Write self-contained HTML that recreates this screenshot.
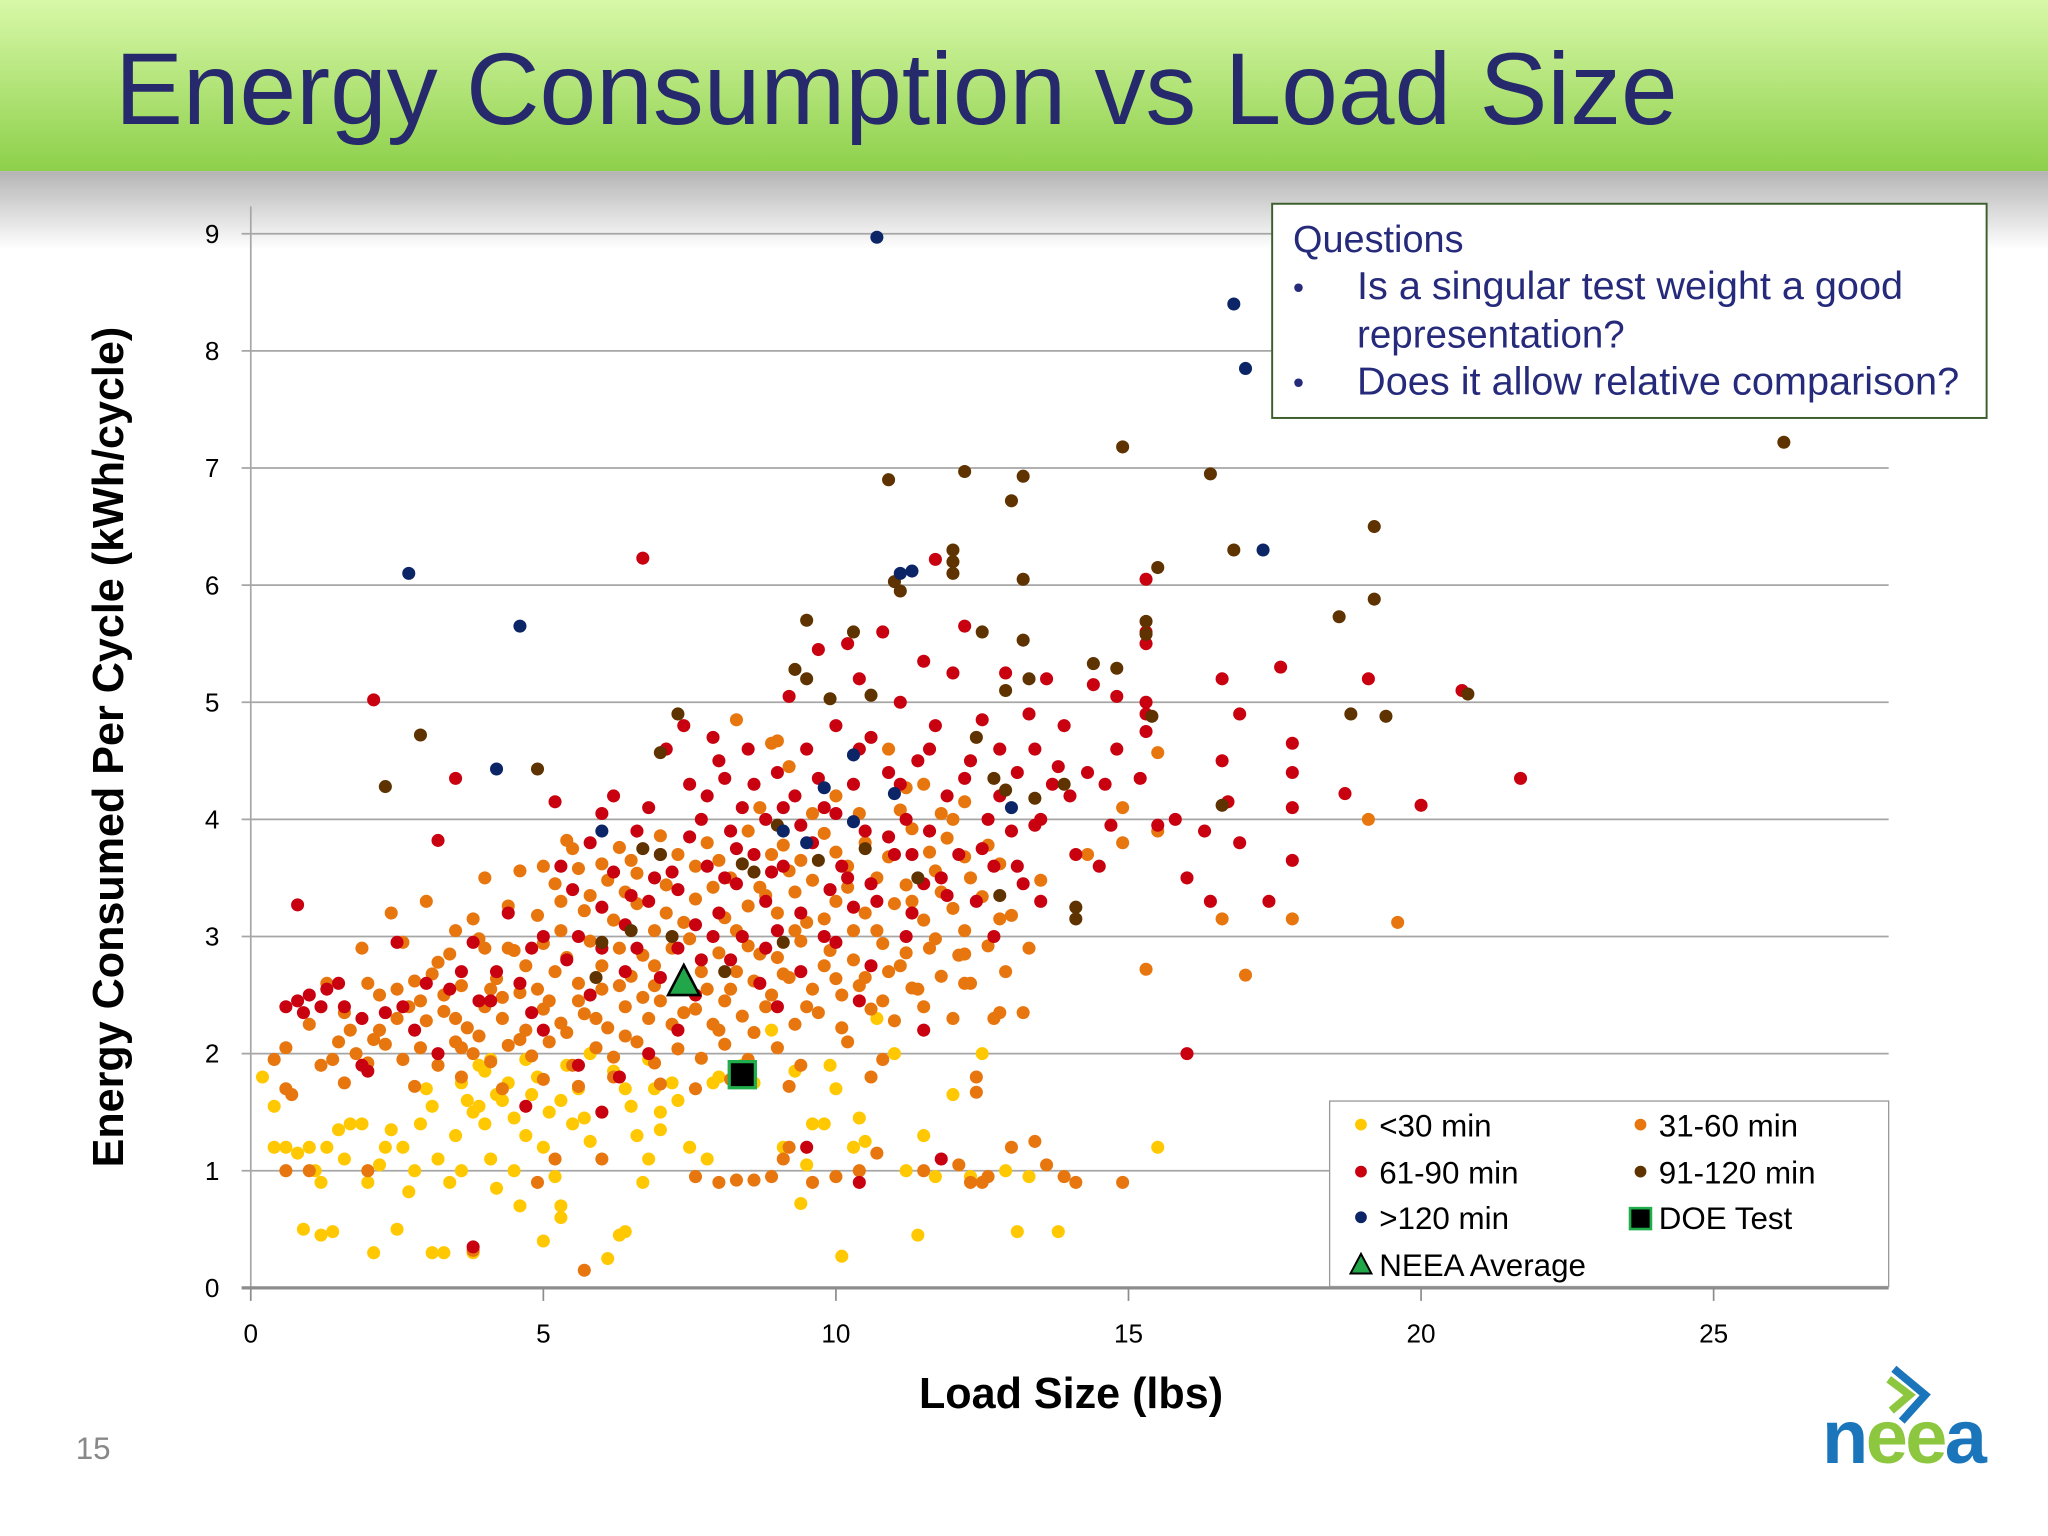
<!DOCTYPE html>
<html><head><meta charset="utf-8"><style>
html,body{margin:0;padding:0;background:#fff}
svg{display:block}
text{font-family:"Liberation Sans",sans-serif}
</style></head><body>
<svg id="chart" width="2048" height="1536" viewBox="0 0 1568 1176" xmlns="http://www.w3.org/2000/svg">
<defs>
<linearGradient id="hdr" x1="0" y1="0" x2="0" y2="1"><stop offset="0" stop-color="#d8f8a8"/><stop offset="1" stop-color="#8dd04a"/></linearGradient>
<linearGradient id="shd" x1="0" y1="0" x2="0" y2="1"><stop offset="0" stop-color="#b4b4b4"/><stop offset="1" stop-color="#ffffff"/></linearGradient>
</defs>
<rect x="0" y="0" width="1568" height="131" fill="url(#hdr)"/>
<rect x="0" y="131" width="1568" height="60" fill="url(#shd)"/>
<text x="88" y="95" font-size="78" fill="#262a6c">Energy Consumption vs Load Size</text>
<g id="grid"></g>
<g id="axes"></g>
<g id="marks"></g>
<text transform="translate(94,572) rotate(-90)" text-anchor="middle" font-size="33" font-weight="bold" fill="#000">Energy Consumed Per Cycle (kWh/cycle)</text>
<text x="820" y="1078" text-anchor="middle" font-size="33" font-weight="bold" fill="#000">Load Size (lbs)</text>
<g>
<rect x="974" y="156" width="547" height="164" fill="#fff" stroke="#3d5f2e" stroke-width="1.5"/>
<text x="990" y="193" font-size="29" fill="#262a7a">Questions</text>
<text x="990" y="228" font-size="24" fill="#262a7a">•</text>
<text x="1039" y="229" font-size="29.5" fill="#262a7a" textLength="418" lengthAdjust="spacingAndGlyphs">Is a singular test weight a good</text>
<text x="1039" y="266" font-size="29.5" fill="#262a7a">representation?</text>
<text x="990" y="301" font-size="24" fill="#262a7a">•</text>
<text x="1039" y="302" font-size="29.5" fill="#262a7a" textLength="461" lengthAdjust="spacingAndGlyphs">Does it allow relative comparison?</text>
</g>
<g>
<rect x="1018" y="843" width="428" height="142" fill="#fff" stroke="#999" stroke-width="1"/>
<g><circle cx="1042" cy="861" r="4.5" fill="#ffc800"/><text x="1056" y="870" font-size="24">&lt;30 min</text></g>
<g><circle cx="1256" cy="861" r="4.5" fill="#e8760f"/><text x="1270" y="870" font-size="24">31-60 min</text></g>
<g><circle cx="1042" cy="897" r="4.5" fill="#c8000f"/><text x="1056" y="906" font-size="24">61-90 min</text></g>
<g><circle cx="1256" cy="897" r="4.5" fill="#5e3300"/><text x="1270" y="906" font-size="24">91-120 min</text></g>
<g><circle cx="1042" cy="932" r="4.5" fill="#0c2566"/><text x="1056" y="941" font-size="24">&gt;120 min</text></g>
<g><rect x="1248" y="925" width="16" height="16" fill="#000" stroke="#1fae4b" stroke-width="2"/><text x="1270" y="941" font-size="24">DOE Test</text></g>
<g><polygon points="1042,960 1050,975 1034,975" fill="#22a64a" stroke="#000" stroke-width="1.5"/><text x="1056" y="977" font-size="24">NEEA Average</text></g>
</g>
<text x="58" y="1117" font-size="24" fill="#888">15</text>
<g>
<polyline points="1450,1048 1474,1068 1456,1088" fill="none" stroke="#1a75bb" stroke-width="6"/>
<polyline points="1446,1056 1462,1068 1448,1080" fill="none" stroke="#8dc63f" stroke-width="6"/>
<text x="1395" y="1120" font-size="58" font-weight="bold" letter-spacing="-2"><tspan fill="#1a75bb">n</tspan><tspan fill="#8dc63f">ee</tspan><tspan fill="#1a75bb">a</tspan></text>
</g>
</svg>
<script>
const xTicks=[0,5,10,15,20,25];
const yTicks=[0,1,2,3,4,5,6,7,8,9];
const under30=[[0.2,1.8],[0.4,1.55],[0.4,1.2],[0.6,1.2],[0.8,1.15],[0.9,0.5],[1.2,0.45],[1.4,0.48],[1.2,0.9],[1.0,1.2],[1.3,1.2],[1.5,1.35],[1.7,1.4],[1.9,1.4],[2.1,0.3],[2.2,1.05],[2.3,1.2],[2.5,0.5],[2.6,1.2],[2.7,0.82],[2.8,1.0],[2.9,1.4],[3.0,1.7],[3.1,0.3],[3.2,1.1],[3.4,0.9],[3.5,1.3],[3.6,1.0],[3.7,1.6],[3.8,0.3],[3.8,1.5],[3.9,1.9],[4.0,1.4],[4.1,1.1],[4.2,0.85],[4.3,1.6],[4.4,1.75],[4.6,0.7],[4.7,1.3],[4.8,1.65],[5.0,0.4],[5.0,1.2],[5.1,1.5],[5.2,0.95],[5.3,0.7],[5.3,0.6],[5.5,1.4],[5.6,1.7],[5.8,1.25],[6.0,1.5],[6.1,0.25],[6.3,0.45],[6.4,0.48],[6.4,1.7],[6.6,1.3],[6.8,1.1],[6.9,1.7],[7.0,1.5],[7.2,1.75],[7.5,1.2],[7.8,1.1],[8.0,1.8],[8.3,1.85],[8.6,1.75],[8.9,2.2],[9.1,1.2],[9.4,0.72],[9.5,1.05],[9.6,1.4],[9.8,1.4],[10.0,1.7],[10.1,0.27],[10.3,1.2],[10.5,1.25],[10.7,2.3],[11.0,2.0],[11.2,1.0],[11.4,0.45],[11.5,1.3],[11.7,0.95],[12.0,1.65],[12.3,0.95],[12.9,1.0],[13.1,0.48],[13.3,0.95],[13.8,0.48],[15.5,1.2],[12.5,2.0],[7.0,1.35],[5.8,2.0],[4.1,1.95],[6.7,0.9],[2.0,0.9],[3.3,0.3],[4.5,1.0],
[3.6,1.75],[3.9,1.55],[4.0,1.85],[4.2,1.65],[4.5,1.45],[4.9,1.8],[5.3,1.6],[5.7,1.45],[6.2,1.85],[6.5,1.55],[7.3,1.6],[7.9,1.75],[8.4,1.9],[9.3,1.85],[9.9,1.9],[10.4,1.45],[1.1,1.0],[1.6,1.1],[2.4,1.35],[3.1,1.55],[4.7,1.95],[5.4,1.9],[6.8,1.95]];
const min31to60=[[0.4,1.95],[0.6,2.05],[1.2,1.9],[1.5,2.1],[1.8,2.0],[2.0,1.92],[2.3,2.08],[2.6,1.95],[2.9,2.05],[3.2,1.9],[3.5,2.1],[3.8,2.0],[4.1,1.93],[4.4,2.07],[4.8,1.98],[5.1,2.1],[5.5,1.9],[5.9,2.05],[6.2,1.97],[6.6,2.1],[6.9,1.92],[7.3,2.04],[7.7,1.96],[8.1,2.08],[8.5,1.95],[9.0,2.05],[9.4,1.9],[10.2,2.1],[10.8,1.95],
[1.0,2.25],[1.6,2.35],[2.2,2.2],[2.7,2.4],[3.0,2.28],[3.3,2.36],[3.7,2.22],[4.0,2.4],[4.3,2.3],[4.7,2.2],[5.0,2.38],[5.3,2.26],[5.7,2.34],[6.1,2.22],[6.4,2.4],[6.8,2.3],[7.2,2.25],[7.6,2.38],[8.0,2.2],[8.4,2.32],[8.8,2.4],[9.3,2.25],[9.7,2.35],[10.1,2.22],[10.6,2.38],[11.0,2.28],[11.5,2.4],[12.0,2.3],[12.8,2.35],
[1.3,2.6],[2.5,2.55],[3.1,2.68],[3.6,2.58],[4.2,2.64],[4.6,2.52],[5.2,2.7],[5.6,2.6],[6.0,2.55],[6.5,2.66],[6.9,2.58],[7.7,2.7],[8.2,2.55],[8.6,2.62],[9.1,2.68],[9.6,2.55],[10.0,2.64],[10.4,2.58],[10.9,2.7],[11.3,2.56],[11.8,2.66],[12.3,2.6],[12.9,2.7],
[1.9,2.9],[2.6,2.95],[3.4,2.85],[3.9,2.98],[4.5,2.88],[5.0,2.94],[5.4,2.82],[5.8,2.96],[6.3,2.9],[6.7,2.84],[7.5,2.98],[8.0,2.86],[8.5,2.92],[9.0,2.82],[9.4,2.96],[9.9,2.88],[10.3,2.8],[10.8,2.94],[11.2,2.86],[11.7,2.98],[12.1,2.84],[12.6,2.92],[13.3,2.9],
[2.4,3.2],[3.0,3.3],[3.8,3.15],[4.4,3.26],[4.9,3.18],[5.3,3.3],[5.7,3.22],[6.2,3.14],[6.6,3.28],[7.1,3.2],[7.6,3.32],[8.1,3.16],[8.5,3.26],[9.0,3.2],[9.5,3.12],[10.0,3.3],[10.5,3.2],[11.0,3.28],[11.5,3.14],[12.0,3.24],[12.5,3.34],[13.0,3.18],
[4.0,3.5],[4.6,3.56],[5.2,3.45],[5.6,3.58],[6.1,3.48],[6.6,3.54],[7.1,3.44],[7.6,3.6],[8.2,3.5],[8.7,3.42],[9.2,3.56],[9.6,3.48],[10.2,3.6],[10.7,3.5],[11.2,3.44],[11.7,3.56],[12.3,3.5],[12.8,3.62],[13.5,3.48],
[5.4,3.82],[6.3,3.76],[7.0,3.86],[7.8,3.8],[8.5,3.9],[9.1,3.78],[9.8,3.88],[10.5,3.8],[11.3,3.92],[11.9,3.84],[12.6,3.78],
[8.7,4.1],[9.2,4.45],[10.0,4.2],[10.9,4.6],[11.5,4.3],[12.2,4.15],[8.9,4.65],
[0.6,1.7],[1.6,1.75],[2.8,1.72],[3.6,1.8],[4.3,1.7],[5.0,1.78],[5.6,1.72],[6.2,1.8],[7.0,1.74],[7.6,1.7],[8.2,1.78],[9.2,1.72],[10.6,1.8],
[7.6,0.95],[8.0,0.9],[8.3,0.92],[8.6,0.92],[8.9,0.95],[9.1,1.1],[9.2,1.2],[9.6,0.9],[10.0,0.95],[10.4,1.0],[10.7,1.15],[11.5,1.0],[12.1,1.05],[12.3,0.9],[12.5,0.9],[12.6,0.95],[13.0,1.2],[13.4,1.25],[13.6,1.05],[13.9,0.95],[14.1,0.9],[14.9,0.9],[5.2,1.1],[6.0,1.1],[4.9,0.9],[1.0,1.0],[2.0,1.0],
[15.3,2.72],[16.6,3.15],[17.0,2.67],[17.8,3.15],[19.1,4.0],[19.6,3.12],[15.5,4.57],[14.9,4.1],[15.5,3.9],[14.9,3.8],[11.2,4.27],[12.0,4.0],[13.2,2.35],[12.7,2.3],[12.2,2.6],[12.4,1.8],[12.4,1.67],[5.7,0.15],[3.8,0.32],[0.7,1.65],[0.6,1.0],[8.3,4.85],[9.0,4.67],[14.3,3.7],
[2.1,2.12],[2.5,2.3],[2.9,2.45],[3.3,2.5],[3.5,2.3],[3.6,2.05],[3.9,2.15],[4.1,2.55],[4.3,2.48],[4.6,2.12],[4.9,2.55],[5.1,2.45],[5.4,2.18],[5.6,2.45],[5.9,2.3],[6.0,2.75],[6.3,2.58],[6.4,2.15],[6.7,2.48],[6.9,2.75],[7.0,2.45],[7.2,2.9],[7.4,2.35],[7.8,2.55],[7.9,2.25],[8.1,2.45],[8.3,2.7],[8.6,2.18],[8.7,2.85],[8.9,2.5],[9.2,2.65],[9.3,3.05],[9.5,2.4],[9.8,2.75],[10.1,2.5],[10.3,3.05],[10.5,2.65],[10.8,2.45],[11.1,2.75],[11.4,2.55],[11.6,2.9],[12.2,2.85],[3.2,2.78],[2.8,2.62],[2.2,2.5],[1.7,2.2],[1.4,1.95],[4.0,2.9],[4.7,2.75],[5.3,3.05],[5.8,3.35],[6.4,3.38],[6.9,3.05],[7.4,3.12],[7.9,3.42],[8.3,3.05],[8.8,3.35],[9.3,3.38],[9.8,3.15],[10.2,3.42],[10.7,3.05],[11.3,3.3],[11.8,3.38],[12.2,3.05],[12.8,3.15],[6.5,3.65],[7.3,3.7],[8.0,3.65],[8.9,3.7],[9.4,3.65],[10.0,3.72],[10.9,3.68],[11.6,3.72],[12.2,3.68],[9.6,4.05],[10.4,4.05],[11.1,4.08],[11.8,4.05],[4.4,2.9],[3.5,3.05],[2.0,2.6],[5.0,3.6],[5.5,3.75],[6.0,3.62]];
const min61to90=[[0.8,3.27],[2.1,5.02],[3.5,4.35],[3.2,3.82],[6.7,6.23],[11.7,6.22],[15.3,6.05],[16.0,2.0],[21.7,4.35],[20.0,4.12],[20.7,5.1],[19.1,5.2],[17.8,4.65],[17.8,4.4],[17.8,4.1],[17.8,3.65],[18.7,4.22],[17.6,5.3],[17.4,3.3],[16.9,3.8],[16.7,4.15],[16.9,4.9],[16.6,5.2],[16.6,4.5],[16.3,3.9],[16.4,3.3],[16.0,3.5],[15.8,4.0],[15.5,3.95],[15.2,4.35],[15.3,5.0],[15.3,4.9],[15.3,4.75],[15.3,5.5],[15.3,5.6],[14.8,4.6],[14.5,3.6],[13.5,3.3],
[0.6,2.4],[0.8,2.45],[0.9,2.35],[1.0,2.5],[1.3,2.55],[1.5,2.6],[1.6,2.4],[1.9,1.9],[1.9,2.3],[2.3,2.35],[2.5,2.95],[2.8,2.2],[3.0,2.6],[3.4,2.55],[3.8,2.95],[3.9,2.45],[4.2,2.7],[4.4,3.2],[4.6,2.6],[4.8,2.35],[5.0,3.0],[5.2,4.15],[5.4,2.8],[5.6,3.0],[5.8,2.5],[6.0,4.05],[6.0,3.25],[6.2,4.2],[6.4,3.1],[6.6,2.9],[6.8,3.3],[6.8,4.1],[7.0,3.7],[7.1,4.6],[7.3,3.4],[7.4,4.8],[7.5,4.3],[7.6,3.1],[7.7,4.0],[7.8,3.6],[7.9,4.7],[8.0,3.2],[8.1,4.35],[8.2,3.9],[8.3,3.45],[8.4,4.1],[8.5,4.6],[8.6,3.7],[8.8,4.0],[8.8,3.3],[9.0,4.4],[9.1,3.6],[9.2,5.05],[9.3,4.2],[9.4,3.2],[9.5,4.6],[9.6,3.8],[9.7,5.45],[9.8,4.1],[9.9,3.4],[10.0,4.8],[10.1,3.6],[10.2,5.5],[10.3,4.3],[10.4,5.2],[10.5,3.9],[10.6,4.7],[10.7,3.3],[10.8,5.6],[10.9,4.4],[11.0,3.7],[11.1,5.0],[11.2,4.0],[11.3,3.2],[11.4,4.5],[11.5,5.35],[11.6,3.9],[11.7,4.8],[11.8,3.5],[11.9,4.2],[12.0,5.25],[12.1,3.7],[12.2,5.65],[12.3,4.5],[12.4,3.3],[12.5,4.85],[12.6,4.0],[12.7,3.6],[12.8,4.6],[12.9,5.25],[13.0,3.9],[13.1,4.4],[13.2,3.45],[13.3,4.9],[13.4,4.6],[13.5,4.0],[13.6,5.2],[13.8,4.45],[13.9,4.8],[14.0,4.2],[14.1,3.7],[14.3,4.4],[14.4,5.15],[14.6,4.3],[14.7,3.95],[14.8,5.05],[6.4,2.7],[7.0,2.65],[7.6,2.5],[8.2,2.8],[8.8,2.9],[9.4,2.7],[10.0,2.95],[10.6,2.75],[11.2,3.0],[5.0,2.2],[3.2,2.0],[2.0,1.85],[7.3,2.2],[9.0,2.4],[10.4,2.45],[4.7,1.55],[6.3,1.8],[6.8,2.0],[8.4,3.0],[9.8,3.0],[6.0,2.9],[5.3,3.6],[5.8,3.8],[6.6,3.9],[7.9,3.0],[8.7,2.6],[9.5,1.2],[10.4,0.9],[11.8,1.1],[3.8,0.35],[6.0,1.5],[5.6,1.9],[12.7,3.0],[11.5,2.2],
[7.2,3.55],[7.5,3.85],[7.8,4.2],[8.0,4.5],[8.3,3.75],[8.6,4.3],[8.9,3.55],[9.1,4.1],[9.4,3.95],[9.7,4.35],[10.0,4.05],[10.2,3.5],[10.4,4.6],[10.6,3.45],[10.9,3.85],[11.1,4.3],[11.3,3.7],[11.6,4.6],[11.9,3.35],[12.2,4.35],[12.5,3.75],[12.8,4.2],[13.1,3.6],[13.4,3.95],[13.7,4.3],[6.2,3.55],[6.5,3.35],[6.9,3.5],[7.3,2.9],[7.7,2.8],[8.1,3.5],[5.5,3.4],[4.8,2.9],[4.1,2.45],[3.6,2.7],[2.6,2.4],[1.2,2.4],[9.0,3.05],[10.3,3.25],[11.5,3.45]];
const min91to120=[[2.3,4.28],[2.9,4.72],[4.9,4.43],[7.0,4.57],[7.3,4.9],[8.4,3.62],[8.6,3.55],[9.3,5.28],[9.5,5.7],[9.5,5.2],[9.9,5.03],[10.3,5.6],[10.6,5.06],[10.9,6.9],[11.0,6.03],[11.1,5.95],[12.2,6.97],[12.0,6.3],[12.0,6.2],[12.0,6.1],[12.5,5.6],[13.0,6.72],[13.2,6.93],[13.2,6.05],[13.2,5.53],[12.9,5.1],[13.3,5.2],[12.4,4.7],[12.7,4.35],[12.9,4.25],[13.4,4.18],[13.9,4.3],[14.9,7.18],[14.4,5.33],[14.8,5.29],[15.3,5.69],[15.3,5.58],[15.5,6.15],[15.4,4.88],[14.1,3.25],[14.1,3.15],[16.4,6.95],[16.8,6.3],[16.6,4.12],[18.6,5.73],[19.2,6.5],[19.2,5.88],[18.8,4.9],[19.4,4.88],[20.8,5.07],[26.2,7.22],[7.2,3.0],[6.0,2.95],[7.4,2.55],[8.1,2.7],[9.1,2.95],[9.7,3.65],[7.0,3.7],[10.5,3.75],[11.4,3.5],[12.8,3.35],[6.5,3.05],[9.0,3.95],[6.7,3.75],[5.9,2.65]];
const over120=[[2.7,6.1],[4.6,5.65],[4.2,4.43],[6.0,3.9],[10.7,8.97],[16.8,8.4],[17.0,7.85],[17.3,6.3],[11.1,6.1],[11.3,6.12],[10.3,4.55],[9.8,4.27],[10.3,3.98],[11.0,4.22],[9.1,3.9],[9.5,3.8],[13.0,4.1]];
const neeaAverage=[7.4,2.6];
const doeTest=[8.4,1.82];

const NS="http://www.w3.org/2000/svg";
const X0=192,XPU=44.8,Y0=986,YPU=89.67,XMAX=1446;
function sx(v){return X0+v*XPU;}
function sy(v){return Y0-v*YPU;}
function mk(tag,attrs,parent){const e=document.createElementNS(NS,tag);for(const k in attrs)e.setAttribute(k,attrs[k]);parent.appendChild(e);return e;}
const grid=document.getElementById('grid'),axes=document.getElementById('axes'),marks=document.getElementById('marks');
yTicks.forEach(t=>{
  if(t>0){const l=mk('line',{x1:185,x2:XMAX,y1:sy(t),y2:sy(t),stroke:'#a6a6a6','stroke-width':1.3},grid);
  
  }
  const tx=mk('text',{x:168,y:sy(t)+7,'text-anchor':'end','font-size':20,fill:'#000'},axes);
  tx.textContent=t;
  
  
});
const ya=mk('line',{x1:X0,x2:X0,y1:158,y2:Y0,stroke:'#a6a6a6','stroke-width':1.3},axes);


const xa=mk('line',{x1:185,x2:XMAX,y1:Y0,y2:Y0,stroke:'#8c8c8c','stroke-width':2.5},axes);


xTicks.forEach(t=>{
  const tk=mk('line',{x1:sx(t),x2:sx(t),y1:Y0,y2:Y0+10,stroke:'#8c8c8c','stroke-width':1.3},axes);
  
  
  const tx=mk('text',{x:sx(t),y:1028,'text-anchor':'middle','font-size':20,fill:'#000'},axes);
  tx.textContent=t;
  
  
});
function series(data,color,name){
  data.forEach(p=>{
    const c=mk('circle',{cx:sx(p[0]),cy:sy(p[1]),r:5,fill:color},marks);
    
    
  });
}
series(under30,'#ffc800','point-under-30');
series(min31to60,'#e8760f','point-31-60');
series(min61to90,'#c8000f','point-61-90');
series(min91to120,'#5e3300','point-91-120');
series(over120,'#0c2566','point-over-120');
const tri=mk('polygon',{points:`${sx(neeaAverage[0])},${sy(neeaAverage[1])-14} ${sx(neeaAverage[0])+12},${sy(neeaAverage[1])+9} ${sx(neeaAverage[0])-12},${sy(neeaAverage[1])+9}`,fill:'#22a64a',stroke:'#000','stroke-width':2},marks);


const sq=mk('rect',{x:sx(doeTest[0])-10,y:sy(doeTest[1])-10,width:20,height:20,fill:'#000',stroke:'#1fae4b','stroke-width':2.5},marks);


</script>
</body></html>
